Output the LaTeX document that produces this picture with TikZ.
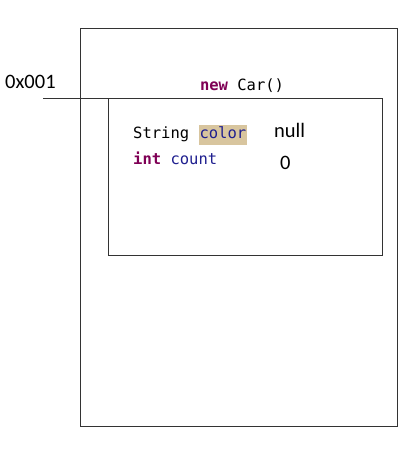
\documentclass[tikz,border=0pt]{standalone}
\usepackage{fontspec}
\setmainfont{Carlito}
\newfontfamily\codefont{DejaVu Sans Mono}
\definecolor{keyword}{HTML}{7F0055}
\definecolor{field}{HTML}{1F1F8F}
\definecolor{mark}{HTML}{D8C59E}
\definecolor{frame}{HTML}{333333}
\setlength{\fboxsep}{1pt}

\begin{document}
\begin{tikzpicture}[x=1pt,y=-1pt,font=\fontsize{20.5}{24}\selectfont,
  box/.style={draw=frame,line width=0.9pt,inner sep=0pt,anchor=north west},
  code/.style={font=\codefont\fontsize{15.5}{18}\selectfont,inner sep=0pt}]
  \useasboundingbox (0,0) rectangle (408,470);
  % ----- heap -----
  \node[box,minimum width=317pt,minimum height=398pt] (heap) at (80,28){};
  \node[code,anchor=base] (newcar) at (242,91){\textcolor{keyword}{\bfseries new} Car()};
  % ----- object -----
  \node[box,minimum width=274pt,minimum height=157pt] (obj) at (108,98){};
  \node[code,anchor=base west] (strcolor) at (133,139){String \colorbox{mark}{\strut\textcolor{field}{color}}};
  \node[code,anchor=base west] (intcount) at (133,165){\textcolor{keyword}{\bfseries int} \textcolor{field}{count}};
  \node[anchor=base west,inner sep=0pt] (null) at (274,138){null};
  \node[anchor=base west,inner sep=0pt] (zero) at (280,170){0};
  % ----- reference -----
  \node[anchor=base west,inner sep=0pt] (ref) at (5,89){0x001};
  \coordinate (refend) at (43,98);
  \draw[frame,line width=0.9pt] (refend) -- (obj.north west);
\end{tikzpicture}
\end{document}
